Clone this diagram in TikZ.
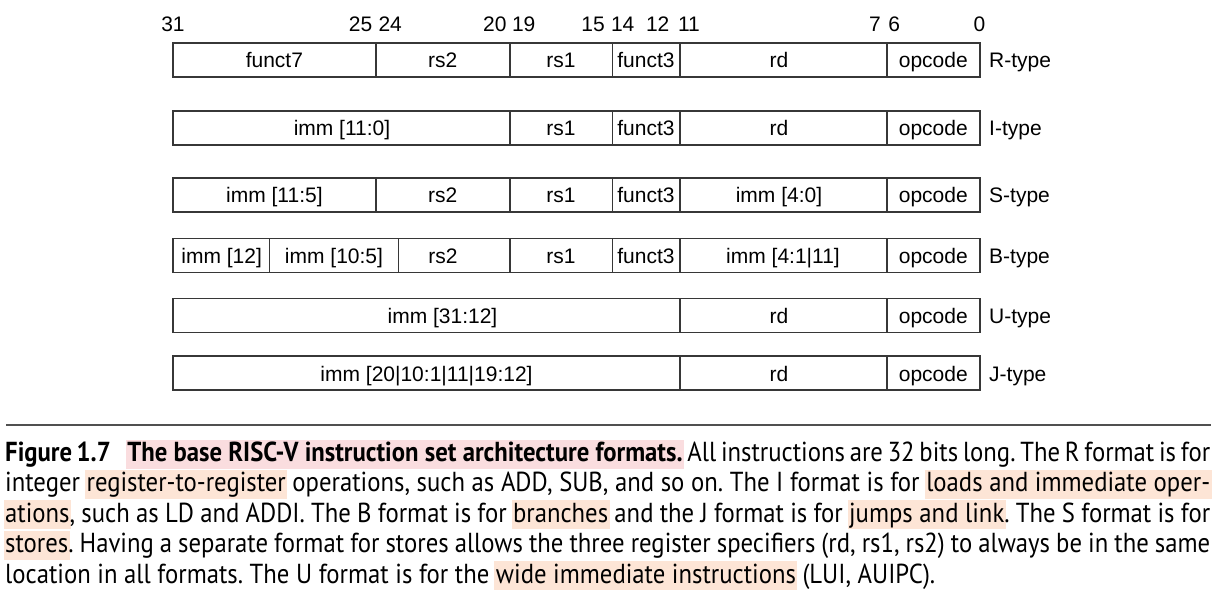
\documentclass[tikz,border=0pt]{standalone}
\usepackage{fontspec}
\setmainfont{Liberation Sans}
\newfontfamily\capfont[FakeStretch=0.9]{PT Sans}

\definecolor{framegray}{RGB}{55,55,55}
\definecolor{rulegray}{RGB}{80,80,80}
\definecolor{titlepink}{RGB}{250,221,223}
\definecolor{termpeach}{RGB}{253,229,214}

% shaded band behind a phrase of the caption, not moving the text
\newcommand\hilite[2]{\kern-1.5pt\relax{\setlength{\fboxsep}{0pt}\colorbox{#1}{\kern1.5pt\relax\rule[-7pt]{0pt}{29pt}#2\kern1.5pt\relax}}\kern-1.5pt\relax}
\newlength\caplinewd
\newsavebox\capmeasure

\tikzset{
  field/.style={draw=framegray, line width=1.6pt},
  ftext/.style={anchor=base, inner sep=0pt, font=\fontsize{21}{25}\selectfont},
  bitno/.style={inner sep=0pt, font=\fontsize{21}{25}\selectfont},
  rowname/.style={anchor=base west, inner sep=0pt, font=\fontsize{21}{25}\selectfont},
  capline/.style={anchor=base west, inner sep=0pt, font=\capfont\fontsize{\capsz}{30}\selectfont\frenchspacing},
}

\begin{document}
% caption size: the last caption line sets the scale
\sbox\capmeasure{\capfont\fontsize{21}{30}\selectfont\frenchspacing location in all formats. The U format is for the wide immediate instructions (LUI, AUIPC).}%
\setlength\caplinewd{\wd\capmeasure}%
\pgfmathsetmacro\capsz{21*(930/\caplinewd)}%
\begin{tikzpicture}[x=1pt,y=-1pt]
\useasboundingbox (0,0) rectangle (1221,596);

% ---- bit positions
\node[bitno, anchor=base]      (b31) at (173,31.7)   {31};
\node[bitno, anchor=base east] (b25) at (372.5,31.7) {25};
\node[bitno, anchor=base west] (b24) at (378.3,31.7) {24};
\node[bitno, anchor=base east] (b20) at (506.8,31.7) {20};
\node[bitno, anchor=base west] (b19) at (511.8,31.7) {19};
\node[bitno, anchor=base east] (b15) at (605,31.7)   {15};
\node[bitno, anchor=base west] (b14) at (610.8,31.7) {14};
\node[bitno, anchor=base west] (b12) at (645.8,31.7) {12};
\node[bitno, anchor=base west] (b11) at (677.8,31.7) {11};
\node[bitno, anchor=base east] (b7)  at (881,31.7)   {7};
\node[bitno, anchor=base west] (b6)  at (888.2,31.7) {6};
\node[bitno, anchor=base]      (b0)  at (979.5,31.7) {0};

% ---- R-type
\def\rt{43}
\draw[field] (173,\rt) rectangle (980,\rt+34);
\foreach \x in {375.7,509.7,612.3,679.7,886.7} \draw[field] (\x,\rt) -- (\x,\rt+34);
\node[ftext] (r-funct7) at (274.4,\rt+25) {funct7};
\node[ftext] (r-rs2)    at (442.7,\rt+25) {rs2};
\node[ftext] (r-rs1)    at (561,\rt+25)   {rs1};
\node[ftext] (r-funct3) at (646,\rt+25)   {funct3};
\node[ftext] (r-rd)     at (779,\rt+25)   {rd};
\node[ftext] (r-opcode) at (933.3,\rt+25) {opcode};
\node[rowname] (r-name) at (989,\rt+25) {R-type};

% ---- I-type
\def\rt{111}
\draw[field] (173,\rt) rectangle (980,\rt+34);
\foreach \x in {509.7,612.3,679.7,886.7} \draw[field] (\x,\rt) -- (\x,\rt+34);
\node[ftext] (i-imm)    at (342,\rt+25)   {imm [11:0]};
\node[ftext] (i-rs1)    at (561,\rt+25)   {rs1};
\node[ftext] (i-funct3) at (646,\rt+25)   {funct3};
\node[ftext] (i-rd)     at (779,\rt+25)   {rd};
\node[ftext] (i-opcode) at (933.3,\rt+25) {opcode};
\node[rowname] (i-name) at (989,\rt+25) {I-type};

% ---- S-type
\def\rt{178}
\draw[field] (173,\rt) rectangle (980,\rt+34);
\foreach \x in {375.7,509.7,612.3,679.7,886.7} \draw[field] (\x,\rt) -- (\x,\rt+34);
\node[ftext] (s-immhi)  at (274.4,\rt+25) {imm [11:5]};
\node[ftext] (s-rs2)    at (442.7,\rt+25) {rs2};
\node[ftext] (s-rs1)    at (561,\rt+25)   {rs1};
\node[ftext] (s-funct3) at (646,\rt+25)   {funct3};
\node[ftext] (s-immlo)  at (779,\rt+25)   {imm [4:0]};
\node[ftext] (s-opcode) at (933.3,\rt+25) {opcode};
\node[rowname] (s-name) at (989,\rt+25) {S-type};

% ---- B-type
\def\rt{238.5}
\draw[field] (173,\rt) rectangle (980,\rt+34);
\foreach \x in {269.3,398.3,509.7,612.3,679.7,886.7} \draw[field] (\x,\rt) -- (\x,\rt+34);
\node[ftext] (b-imm12)  at (221.7,\rt+25) {imm [12]};
\node[ftext] (b-immhi)  at (334,\rt+25)   {imm [10:5]};
\node[ftext] (b-rs2)    at (443,\rt+25)   {rs2};
\node[ftext] (b-rs1)    at (561,\rt+25)   {rs1};
\node[ftext] (b-funct3) at (646,\rt+25)   {funct3};
\node[ftext] (b-immlo)  at (783,\rt+25)   {imm [4:1|11]};
\node[ftext] (b-opcode) at (933.3,\rt+25) {opcode};
\node[rowname] (b-name) at (989,\rt+25) {B-type};

% ---- U-type
\def\rt{298.5}
\draw[field] (173,\rt) rectangle (980,\rt+34);
\foreach \x in {679.7,886.7} \draw[field] (\x,\rt) -- (\x,\rt+34);
\node[ftext] (u-imm)    at (442.5,\rt+25) {imm [31:12]};
\node[ftext] (u-rd)     at (779,\rt+25)   {rd};
\node[ftext] (u-opcode) at (933.3,\rt+25) {opcode};
\node[rowname] (u-name) at (989,\rt+25) {U-type};

% ---- J-type
\def\rt{356}
\draw[field] (173,\rt) rectangle (980,\rt+34);
\foreach \x in {679.7,886.7} \draw[field] (\x,\rt) -- (\x,\rt+34);
\node[ftext] (j-imm)    at (426.5,\rt+25) {imm [20|10:1|11|19:12]};
\node[ftext] (j-rd)     at (779,\rt+25)   {rd};
\node[ftext] (j-opcode) at (933.3,\rt+25) {opcode};
\node[rowname] (j-name) at (989,\rt+25) {J-type};

% ---- rule above the caption
\coordinate (rule-l) at (6,425);
\coordinate (rule-r) at (1211,425);
\draw[rulegray, line width=1.8pt] (rule-l) -- (rule-r);

% ---- caption
\node[capline] (cap1) at (5,461.5) {\makebox[1205pt][s]{\textbf{Figure 1.7}\hspace{0.6em}\hilite{titlepink}{\textbf{The base RISC-V instruction set architecture formats.}} All instructions are 32 bits long. The R format is for}};
\node[capline] (cap2) at (5,491.9) {\makebox[1205pt][s]{integer \hilite{termpeach}{register-to-register} operations, such as ADD, SUB, and so on. The I format is for \hilite{termpeach}{loads and immediate oper-}}};
\node[capline] (cap3) at (5,522.3) {\makebox[1205pt][s]{\hilite{termpeach}{ations}, such as LD and ADDI. The B format is for \hilite{termpeach}{branches} and the J format is for \hilite{termpeach}{jumps and link}. The S format is for}};
\node[capline] (cap4) at (5,552.7) {\makebox[1205pt][s]{\hilite{termpeach}{stores}. Having a separate format for stores allows the three register specifiers (rd, rs1, rs2) to always be in the same}};
\node[capline] (cap5) at (5,583.1) {location in all formats. The U format is for the \hilite{termpeach}{wide immediate instructions} (LUI, AUIPC).};
\end{tikzpicture}
\end{document}
